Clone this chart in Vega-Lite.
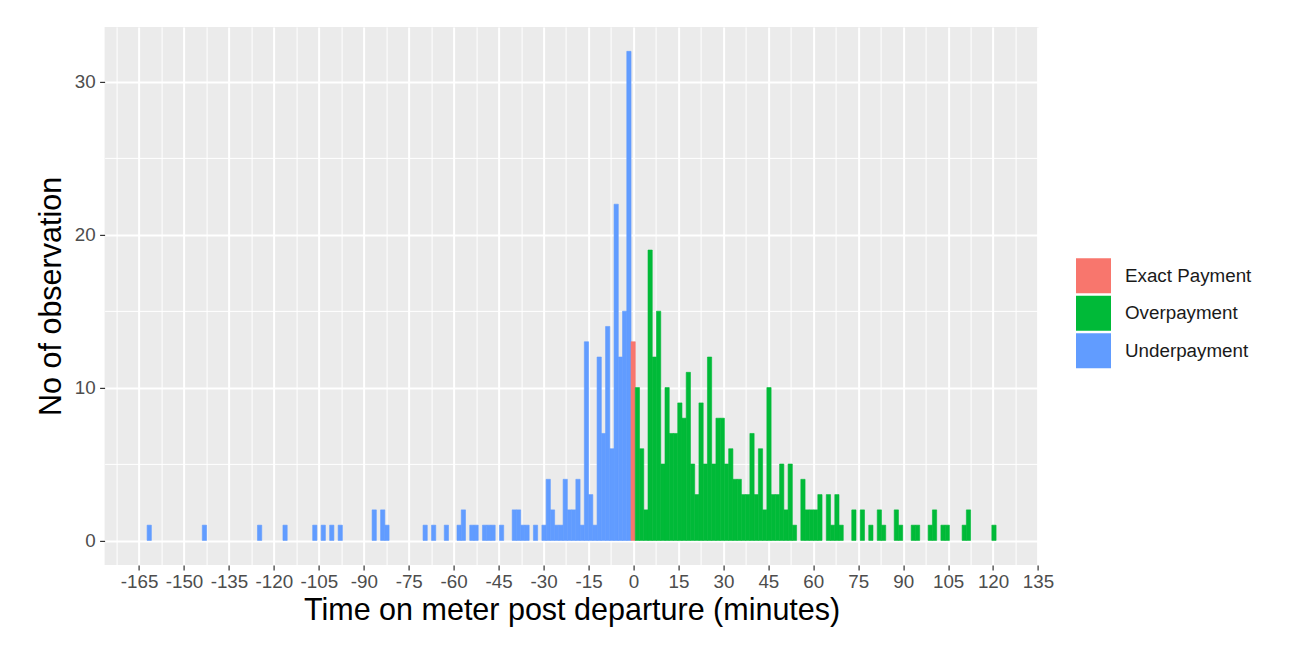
{
  "$schema": "https://vega.github.io/schema/vega-lite/v6.json",
  "width": 934,
  "height": 538,
  "autosize": {"type": "none"},
  "padding": {"left": 104.6, "top": 26.9, "right": 256.4, "bottom": 99.1},
  "background": "white",
  "config": {
    "view": {"fill": "#EBEBEB", "stroke": null},
    "font": "Liberation Sans"
  },
  "data": {
    "values": [
      {"bin_start": -162.308, "bin_end": -160.892, "count": 1, "payment": "Underpayment"},
      {"bin_start": -143.893, "bin_end": -142.476, "count": 1, "payment": "Underpayment"},
      {"bin_start": -125.477, "bin_end": -124.060, "count": 1, "payment": "Underpayment"},
      {"bin_start": -116.977, "bin_end": -115.561, "count": 1, "payment": "Underpayment"},
      {"bin_start": -107.061, "bin_end": -105.644, "count": 1, "payment": "Underpayment"},
      {"bin_start": -104.228, "bin_end": -102.811, "count": 1, "payment": "Underpayment"},
      {"bin_start": -101.395, "bin_end": -99.978, "count": 1, "payment": "Underpayment"},
      {"bin_start": -98.561, "bin_end": -97.145, "count": 1, "payment": "Underpayment"},
      {"bin_start": -87.229, "bin_end": -85.812, "count": 2, "payment": "Underpayment"},
      {"bin_start": -84.395, "bin_end": -82.979, "count": 2, "payment": "Underpayment"},
      {"bin_start": -82.979, "bin_end": -81.562, "count": 1, "payment": "Underpayment"},
      {"bin_start": -70.229, "bin_end": -68.813, "count": 1, "payment": "Underpayment"},
      {"bin_start": -67.396, "bin_end": -65.980, "count": 1, "payment": "Underpayment"},
      {"bin_start": -63.146, "bin_end": -61.730, "count": 1, "payment": "Underpayment"},
      {"bin_start": -58.897, "bin_end": -57.480, "count": 1, "payment": "Underpayment"},
      {"bin_start": -57.480, "bin_end": -56.063, "count": 2, "payment": "Underpayment"},
      {"bin_start": -54.647, "bin_end": -53.230, "count": 1, "payment": "Underpayment"},
      {"bin_start": -53.230, "bin_end": -51.814, "count": 1, "payment": "Underpayment"},
      {"bin_start": -50.397, "bin_end": -48.980, "count": 1, "payment": "Underpayment"},
      {"bin_start": -48.980, "bin_end": -47.564, "count": 1, "payment": "Underpayment"},
      {"bin_start": -47.564, "bin_end": -46.147, "count": 1, "payment": "Underpayment"},
      {"bin_start": -44.731, "bin_end": -43.314, "count": 1, "payment": "Underpayment"},
      {"bin_start": -40.481, "bin_end": -39.064, "count": 2, "payment": "Underpayment"},
      {"bin_start": -39.064, "bin_end": -37.648, "count": 2, "payment": "Underpayment"},
      {"bin_start": -37.648, "bin_end": -36.231, "count": 1, "payment": "Underpayment"},
      {"bin_start": -36.231, "bin_end": -34.814, "count": 1, "payment": "Underpayment"},
      {"bin_start": -33.398, "bin_end": -31.981, "count": 1, "payment": "Underpayment"},
      {"bin_start": -30.565, "bin_end": -29.148, "count": 1, "payment": "Underpayment"},
      {"bin_start": -29.148, "bin_end": -27.731, "count": 4, "payment": "Underpayment"},
      {"bin_start": -27.731, "bin_end": -26.315, "count": 2, "payment": "Underpayment"},
      {"bin_start": -26.315, "bin_end": -24.898, "count": 1, "payment": "Underpayment"},
      {"bin_start": -24.898, "bin_end": -23.482, "count": 1, "payment": "Underpayment"},
      {"bin_start": -23.482, "bin_end": -22.065, "count": 4, "payment": "Underpayment"},
      {"bin_start": -22.065, "bin_end": -20.648, "count": 2, "payment": "Underpayment"},
      {"bin_start": -20.648, "bin_end": -19.232, "count": 2, "payment": "Underpayment"},
      {"bin_start": -19.232, "bin_end": -17.815, "count": 4, "payment": "Underpayment"},
      {"bin_start": -17.815, "bin_end": -16.399, "count": 1, "payment": "Underpayment"},
      {"bin_start": -16.399, "bin_end": -14.982, "count": 13, "payment": "Underpayment"},
      {"bin_start": -14.982, "bin_end": -13.565, "count": 3, "payment": "Underpayment"},
      {"bin_start": -13.565, "bin_end": -12.149, "count": 1, "payment": "Underpayment"},
      {"bin_start": -12.149, "bin_end": -10.732, "count": 12, "payment": "Underpayment"},
      {"bin_start": -10.732, "bin_end": -9.316, "count": 7, "payment": "Underpayment"},
      {"bin_start": -9.316, "bin_end": -7.899, "count": 14, "payment": "Underpayment"},
      {"bin_start": -7.899, "bin_end": -6.482, "count": 6, "payment": "Underpayment"},
      {"bin_start": -6.482, "bin_end": -5.066, "count": 22, "payment": "Underpayment"},
      {"bin_start": -5.066, "bin_end": -3.649, "count": 12, "payment": "Underpayment"},
      {"bin_start": -3.649, "bin_end": -2.233, "count": 15, "payment": "Underpayment"},
      {"bin_start": -2.233, "bin_end": -0.816, "count": 32, "payment": "Underpayment"},
      {"bin_start": -0.816, "bin_end": 0.601, "count": 13, "payment": "Exact Payment"},
      {"bin_start": 0.601, "bin_end": 2.017, "count": 10, "payment": "Overpayment"},
      {"bin_start": 2.017, "bin_end": 3.434, "count": 6, "payment": "Overpayment"},
      {"bin_start": 3.434, "bin_end": 4.851, "count": 2, "payment": "Overpayment"},
      {"bin_start": 4.851, "bin_end": 6.267, "count": 19, "payment": "Overpayment"},
      {"bin_start": 6.267, "bin_end": 7.684, "count": 12, "payment": "Overpayment"},
      {"bin_start": 7.684, "bin_end": 9.100, "count": 15, "payment": "Overpayment"},
      {"bin_start": 9.100, "bin_end": 10.517, "count": 5, "payment": "Overpayment"},
      {"bin_start": 10.517, "bin_end": 11.934, "count": 10, "payment": "Overpayment"},
      {"bin_start": 11.934, "bin_end": 13.350, "count": 7, "payment": "Overpayment"},
      {"bin_start": 13.350, "bin_end": 14.767, "count": 7, "payment": "Overpayment"},
      {"bin_start": 14.767, "bin_end": 16.183, "count": 9, "payment": "Overpayment"},
      {"bin_start": 16.183, "bin_end": 17.600, "count": 8, "payment": "Overpayment"},
      {"bin_start": 17.600, "bin_end": 19.017, "count": 11, "payment": "Overpayment"},
      {"bin_start": 19.017, "bin_end": 20.433, "count": 5, "payment": "Overpayment"},
      {"bin_start": 20.433, "bin_end": 21.850, "count": 3, "payment": "Overpayment"},
      {"bin_start": 21.850, "bin_end": 23.266, "count": 9, "payment": "Overpayment"},
      {"bin_start": 23.266, "bin_end": 24.683, "count": 5, "payment": "Overpayment"},
      {"bin_start": 24.683, "bin_end": 26.100, "count": 12, "payment": "Overpayment"},
      {"bin_start": 26.100, "bin_end": 27.516, "count": 5, "payment": "Overpayment"},
      {"bin_start": 27.516, "bin_end": 28.933, "count": 8, "payment": "Overpayment"},
      {"bin_start": 28.933, "bin_end": 30.349, "count": 8, "payment": "Overpayment"},
      {"bin_start": 30.349, "bin_end": 31.766, "count": 5, "payment": "Overpayment"},
      {"bin_start": 31.766, "bin_end": 33.183, "count": 6, "payment": "Overpayment"},
      {"bin_start": 33.183, "bin_end": 34.599, "count": 4, "payment": "Overpayment"},
      {"bin_start": 34.599, "bin_end": 36.016, "count": 4, "payment": "Overpayment"},
      {"bin_start": 36.016, "bin_end": 37.432, "count": 3, "payment": "Overpayment"},
      {"bin_start": 37.432, "bin_end": 38.849, "count": 3, "payment": "Overpayment"},
      {"bin_start": 38.849, "bin_end": 40.266, "count": 7, "payment": "Overpayment"},
      {"bin_start": 40.266, "bin_end": 41.682, "count": 3, "payment": "Overpayment"},
      {"bin_start": 41.682, "bin_end": 43.099, "count": 6, "payment": "Overpayment"},
      {"bin_start": 43.099, "bin_end": 44.515, "count": 2, "payment": "Overpayment"},
      {"bin_start": 44.515, "bin_end": 45.932, "count": 10, "payment": "Overpayment"},
      {"bin_start": 45.932, "bin_end": 47.349, "count": 3, "payment": "Overpayment"},
      {"bin_start": 47.349, "bin_end": 48.765, "count": 3, "payment": "Overpayment"},
      {"bin_start": 48.765, "bin_end": 50.182, "count": 5, "payment": "Overpayment"},
      {"bin_start": 50.182, "bin_end": 51.598, "count": 2, "payment": "Overpayment"},
      {"bin_start": 51.598, "bin_end": 53.015, "count": 5, "payment": "Overpayment"},
      {"bin_start": 53.015, "bin_end": 54.432, "count": 1, "payment": "Overpayment"},
      {"bin_start": 55.848, "bin_end": 57.265, "count": 4, "payment": "Overpayment"},
      {"bin_start": 57.265, "bin_end": 58.681, "count": 2, "payment": "Overpayment"},
      {"bin_start": 58.681, "bin_end": 60.098, "count": 2, "payment": "Overpayment"},
      {"bin_start": 60.098, "bin_end": 61.515, "count": 2, "payment": "Overpayment"},
      {"bin_start": 61.515, "bin_end": 62.931, "count": 3, "payment": "Overpayment"},
      {"bin_start": 64.348, "bin_end": 65.764, "count": 3, "payment": "Overpayment"},
      {"bin_start": 65.764, "bin_end": 67.181, "count": 1, "payment": "Overpayment"},
      {"bin_start": 67.181, "bin_end": 68.598, "count": 3, "payment": "Overpayment"},
      {"bin_start": 68.598, "bin_end": 70.014, "count": 1, "payment": "Overpayment"},
      {"bin_start": 72.847, "bin_end": 74.264, "count": 2, "payment": "Overpayment"},
      {"bin_start": 75.681, "bin_end": 77.097, "count": 2, "payment": "Overpayment"},
      {"bin_start": 78.514, "bin_end": 79.930, "count": 1, "payment": "Overpayment"},
      {"bin_start": 81.347, "bin_end": 82.764, "count": 2, "payment": "Overpayment"},
      {"bin_start": 82.764, "bin_end": 84.180, "count": 1, "payment": "Overpayment"},
      {"bin_start": 87.013, "bin_end": 88.430, "count": 2, "payment": "Overpayment"},
      {"bin_start": 88.430, "bin_end": 89.847, "count": 1, "payment": "Overpayment"},
      {"bin_start": 92.680, "bin_end": 94.096, "count": 1, "payment": "Overpayment"},
      {"bin_start": 94.096, "bin_end": 95.513, "count": 1, "payment": "Overpayment"},
      {"bin_start": 98.346, "bin_end": 99.763, "count": 1, "payment": "Overpayment"},
      {"bin_start": 99.763, "bin_end": 101.179, "count": 2, "payment": "Overpayment"},
      {"bin_start": 102.596, "bin_end": 104.013, "count": 1, "payment": "Overpayment"},
      {"bin_start": 104.013, "bin_end": 105.429, "count": 1, "payment": "Overpayment"},
      {"bin_start": 109.679, "bin_end": 111.096, "count": 1, "payment": "Overpayment"},
      {"bin_start": 111.096, "bin_end": 112.512, "count": 2, "payment": "Overpayment"},
      {"bin_start": 119.595, "bin_end": 121.012, "count": 1, "payment": "Overpayment"}
    ]
  },
  "mark": {"type": "rect", "strokeWidth": 0.6},
  "encoding": {
    "x": {
      "field": "bin_start",
      "type": "quantitative",
      "scale": {"domain": [-176.5, 135.2], "nice": false, "zero": false},
      "axis": {
        "values": [-172.5, -165, -157.5, -150, -142.5, -135, -127.5, -120, -112.5, -105, -97.5, -90, -82.5, -75, -67.5, -60, -52.5, -45, -37.5, -30, -22.5, -15, -7.5, 0, 7.5, 15, 22.5, 30, 37.5, 45, 52.5, 60, 67.5, 75, 82.5, 90, 97.5, 105, 112.5, 120, 127.5, 135],
        "title": "Time on meter post departure (minutes)",
        "titleFont": "Liberation Sans",
        "titleFontSize": 30.5,
        "titleFontWeight": "normal",
        "titleColor": "#000000",
        "titlePadding": 4,
        "labelFont": "Liberation Sans",
        "labelFontSize": 18.8,
        "labelColor": "#4D4D4D",
        "labelPadding": 3,
        "labelExpr": "datum.value % 15 === 0 ? toString(datum.value) : ''",
        "labelFlush": false,
        "labelOverlap": false,
        "tickColor": "#333333",
        "tickSize": 5,
        "tickWidth": 1.2,
        "tickOpacity": {"condition": {"test": "datum.value % 15 !== 0", "value": 0}, "value": 1},
        "grid": true,
        "gridColor": "#FFFFFF",
        "gridWidth": {"condition": {"test": "datum.value % 15 === 0", "value": 2}, "value": 1},
        "domain": false
      }
    },
    "x2": {"field": "bin_end"},
    "y": {
      "field": "count",
      "type": "quantitative",
      "scale": {"domain": [-1.6, 33.6], "nice": false, "zero": false},
      "axis": {
        "values": [0, 5, 10, 15, 20, 25, 30],
        "title": "No of observation",
        "titleFont": "Liberation Sans",
        "titleFontSize": 30.5,
        "titleFontWeight": "normal",
        "titleColor": "#000000",
        "titlePadding": 8,
        "labelFont": "Liberation Sans",
        "labelFontSize": 18.8,
        "labelColor": "#4D4D4D",
        "labelPadding": 4.5,
        "labelExpr": "datum.value % 10 === 0 ? toString(datum.value) : ''",
        "labelFlush": false,
        "labelOverlap": false,
        "tickColor": "#333333",
        "tickSize": 5,
        "tickWidth": 1.2,
        "tickOpacity": {"condition": {"test": "datum.value % 10 !== 0", "value": 0}, "value": 1},
        "grid": true,
        "gridColor": "#FFFFFF",
        "gridWidth": {"condition": {"test": "datum.value % 10 === 0", "value": 2}, "value": 1},
        "domain": false
      }
    },
    "y2": {"datum": 0},
    "color": {
      "field": "payment",
      "type": "nominal",
      "scale": {
        "domain": ["Exact Payment", "Overpayment", "Underpayment"],
        "range": ["#F8766D", "#00BA38", "#619CFF"]
      },
      "legend": {
        "title": null,
        "orient": "none",
        "legendX": 971.4,
        "legendY": 231.4,
        "symbolType": "square",
        "symbolSize": 1225,
        "symbolStrokeWidth": 0,
        "symbolOpacity": 1,
        "labelFont": "Liberation Sans",
        "labelFontSize": 18.8,
        "labelColor": "#1A1A1A",
        "labelOffset": 14,
        "rowPadding": 2.5
      }
    },
    "stroke": {
      "field": "payment",
      "type": "nominal",
      "scale": {
        "domain": ["Exact Payment", "Overpayment", "Underpayment"],
        "range": ["#F8766D", "#00BA38", "#619CFF"]
      },
      "legend": null
    }
  }
}
